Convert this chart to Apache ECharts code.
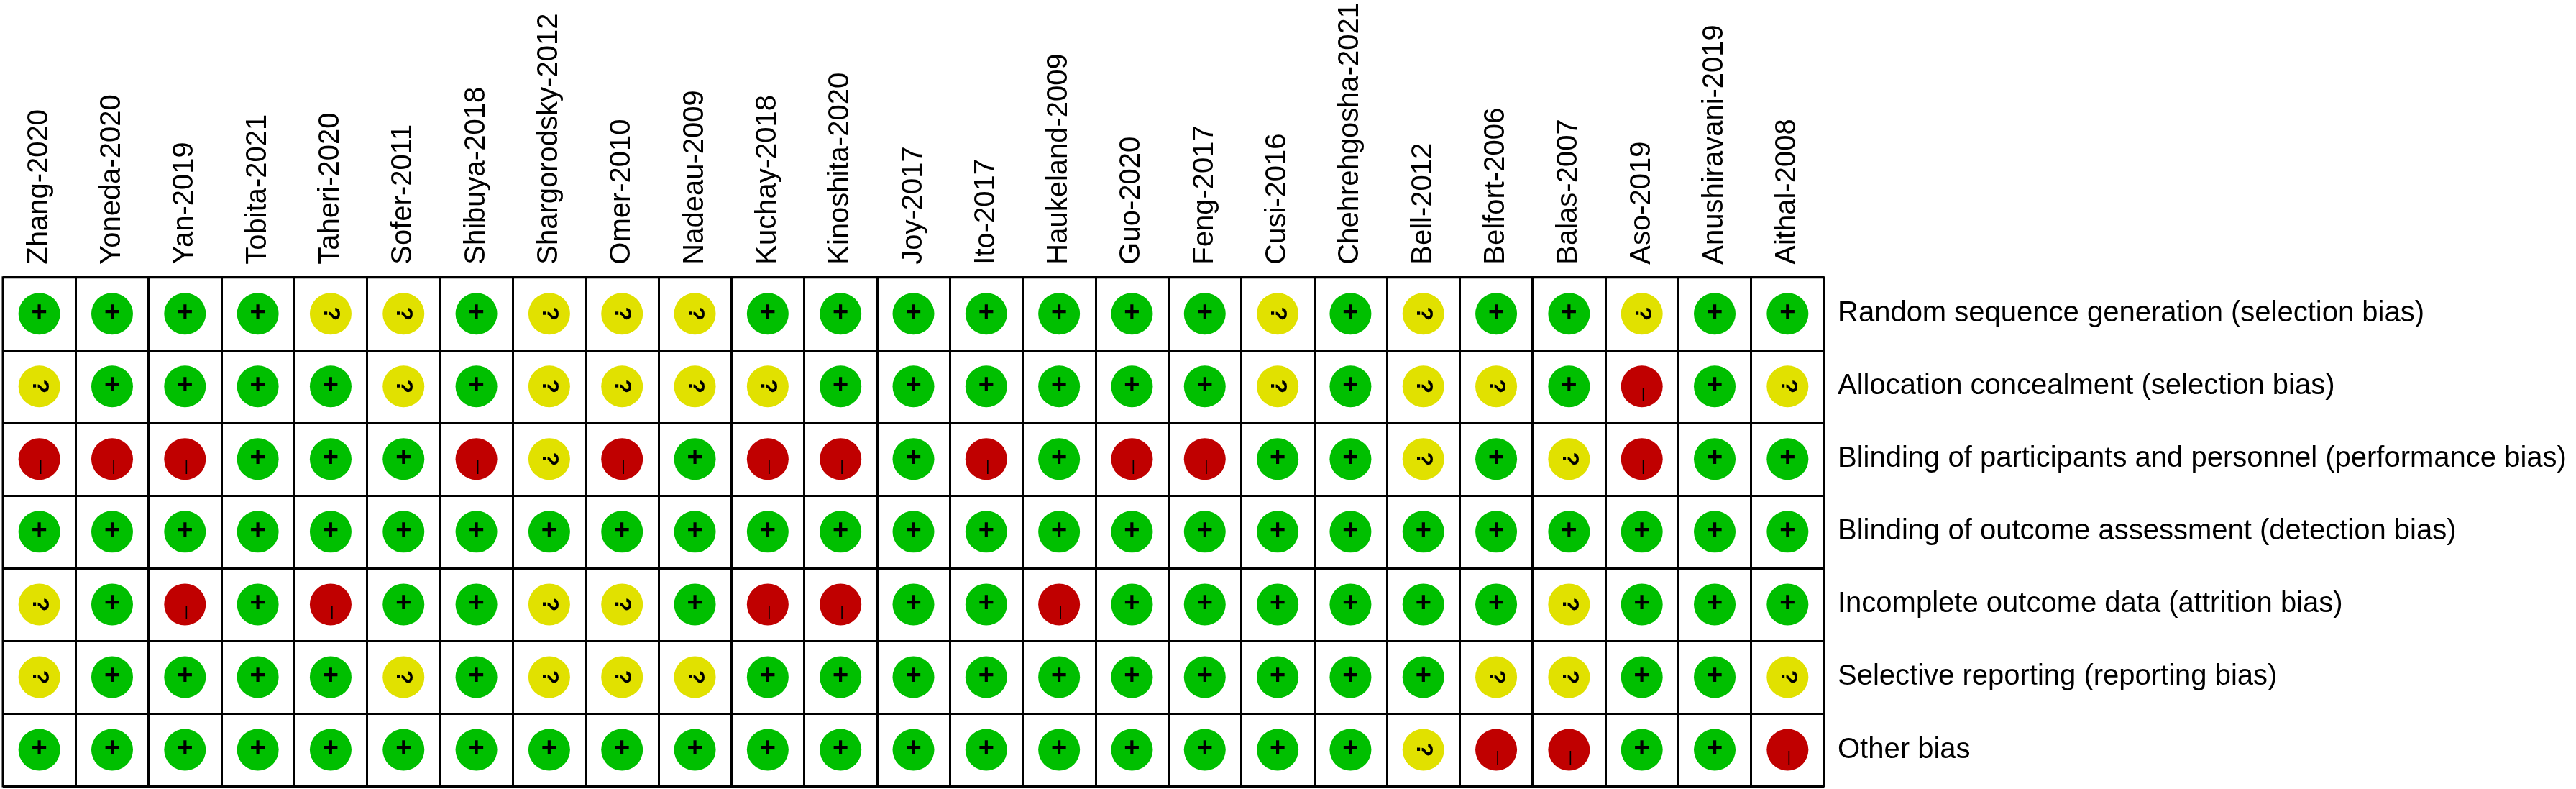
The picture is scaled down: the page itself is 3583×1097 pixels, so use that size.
<!DOCTYPE html>
<html>
<head>
<meta charset="utf-8">
<script src="https://cdn.jsdelivr.net/npm/echarts@6/dist/echarts.min.js"></script>
<style>
html,body{margin:0;padding:0;background:#fff;}
#chart{width:3583px;height:1097px;}
</style>
</head>
<body>
<div id="chart"></div>
<script>
// Studies (columns, left to right)
const studies = ['Zhang-2020','Yoneda-2020','Yan-2019','Tobita-2021','Taheri-2020','Sofer-2011','Shibuya-2018','Shargorodsky-2012','Omer-2010','Nadeau-2009','Kuchay-2018','Kinoshita-2020','Joy-2017','Ito-2017','Haukeland-2009','Guo-2020','Feng-2017','Cusi-2016','Chehrehgosha-2021','Bell-2012','Belfort-2006','Balas-2007','Aso-2019','Anushiravani-2019','Aithal-2008'];

// Bias domains (rows, top to bottom)
const domains = [
  'Random sequence generation (selection bias)',
  'Allocation concealment (selection bias)',
  'Blinding of participants and personnel (performance bias)',
  'Blinding of outcome assessment (detection bias)',
  'Incomplete outcome data (attrition bias)',
  'Selective reporting (reporting bias)',
  'Other bias'
];

// Judgements per domain: '+' low risk, '?' unclear, '-' high risk
const randomSequence   = ['+','+','+','+','?','?','+','?','?','?','+','+','+','+','+','+','+','?','+','?','+','+','?','+','+'];
const allocation       = ['?','+','+','+','+','?','+','?','?','?','?','+','+','+','+','+','+','?','+','?','?','+','-','+','?'];
const blindingPersonnel= ['-','-','-','+','+','+','-','?','-','+','-','-','+','-','+','-','-','+','+','?','+','?','-','+','+'];
const blindingOutcome  = ['+','+','+','+','+','+','+','+','+','+','+','+','+','+','+','+','+','+','+','+','+','+','+','+','+'];
const incompleteData   = ['?','+','-','+','-','+','+','?','?','+','-','-','+','+','-','+','+','+','+','+','+','?','+','+','+'];
const selectiveReport  = ['?','+','+','+','+','?','+','?','?','?','+','+','+','+','+','+','+','+','+','+','?','?','+','+','?'];
const otherBias        = ['+','+','+','+','+','+','+','+','+','+','+','+','+','+','+','+','+','+','+','?','-','-','+','+','-'];

const judgements = [randomSequence, allocation, blindingPersonnel, blindingOutcome, incompleteData, selectiveReport, otherBias];

function pick(code){
  const out = [];
  judgements.forEach((row, r) => row.forEach((v, c) => { if (v === code) out.push([c, r]); }));
  return out;
}

const chart = echarts.init(document.getElementById('chart'), null, {renderer:'canvas'});
const baseSeries = {
  type:'scatter', symbol:'circle', symbolSize:58, silent:true, animation:false,
  emphasis:{disabled:true}
};
chart.setOption({
  backgroundColor:'#ffffff',
  animation:false,
  grid:{left:4, right:1046, top:385, bottom:4, show:true, borderColor:'#000', borderWidth:3, backgroundColor:'#fff'},
  xAxis:{
    type:'category', data:studies, position:'top', boundaryGap:true,
    axisLine:{show:false}, axisTick:{show:false},
    splitLine:{show:true, lineStyle:{color:'#000', width:3}},
    axisLabel:{rotate:-90, margin:18, interval:0, color:'#000', fontSize:40, fontFamily:'Liberation Sans, Arial, sans-serif'}
  },
  yAxis:{
    type:'category', data:domains, position:'right', inverse:true, boundaryGap:true,
    axisLine:{show:false}, axisTick:{show:false},
    splitLine:{show:true, lineStyle:{color:'#000', width:3}},
    axisLabel:{margin:19, interval:0, color:'#000', fontSize:40, fontFamily:'Liberation Sans, Arial, sans-serif'}
  },
  series:[
    Object.assign({}, baseSeries, {
      name:'Low', data:pick('+'), itemStyle:{color:'#00bf00', opacity:1},
      label:{show:true, position:'inside', formatter:'+', color:'#000', fontSize:38, fontWeight:'bold', fontFamily:'Liberation Sans, Arial', offset:[0,-1]}
    }),
    Object.assign({}, baseSeries, {
      name:'Unclear', data:pick('?'), itemStyle:{color:'#e1e100', opacity:1},
      label:{show:true, position:'inside', formatter:'?', rotate:-90, color:'#000', fontSize:32, fontWeight:'bold', fontFamily:'Liberation Sans, Arial'}
    }),
    Object.assign({}, baseSeries, {
      name:'High', data:pick('-'), itemStyle:{color:'#c00000', opacity:1},
      label:{show:true, position:'inside', formatter:'|', color:'#000', fontSize:20, fontFamily:'Liberation Sans, Arial', offset:[2,11]}
    })
  ]
});
</script>
</body>
</html>
